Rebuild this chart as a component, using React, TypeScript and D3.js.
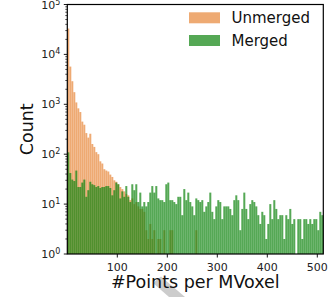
import React, { useEffect, useRef } from "react";
import * as d3 from "d3";

// histogram bins: width 4 points, 0..512
const binWidth = 4;
const xMax = 512;

const unmergedCounts = [
  33000, 5700, 2900, 1750, 1090, 830, 700, 450, 390, 265, 215, 257, 160, 140, 110, 100,
  72, 65, 50, 47, 45, 39, 35, 30, 28, 25, 22, 20, 18, 16, 15, 12,
  13, 10, 11, 9, 8, 8, 7, 3, 2, 4, 2, 3, 1, 2, 2, 1,
  3, 1, 0, 3, 3, 0, 0, 0, 0, 0, 0, 0, 0, 0, 0, 0,
  3, 0, 0, 0, 0, 0, 0, 0, 0, 0, 0, 0, 0, 0, 0, 0,
  0, 0, 0, 0, 0, 0, 0, 0, 0, 0, 0, 0, 0, 0, 0, 0,
  0, 0, 0, 0, 0, 0, 0, 0, 0, 0, 0, 0, 0, 0, 0, 0,
  0, 0, 0, 0, 0, 0, 0, 0, 0, 0, 0, 0, 0, 0, 0, 0,
];

const mergedCounts = [
  109, 42, 31, 29, 47, 22, 22, 27, 31, 14, 19, 28, 25, 24, 22, 23,
  21, 22, 22, 23, 23, 21, 15, 19, 27, 25, 13, 18, 14, 23, 14, 11,
  25, 19, 25, 11, 17, 9, 11, 9, 11, 17, 23, 17, 23, 13, 12, 12,
  11, 25, 27, 12, 12, 11, 10, 14, 14, 6, 20, 12, 17, 11, 9, 6,
  13, 12, 11, 12, 7, 9, 11, 17, 7, 5, 9, 12, 11, 5, 9, 9,
  9, 8, 6, 12, 15, 12, 3, 8, 17, 8, 5, 10, 12, 11, 9, 6,
  4, 7, 6, 2, 4, 10, 5, 12, 8, 5, 6, 6, 2, 6, 5, 8,
  4, 5, 1, 5, 5, 2, 5, 5, 4, 5, 4, 5, 5, 3, 7, 6,
];

const xTicks = [100, 200, 300, 400, 500];
const yExponents = [0, 1, 2, 3, 4, 5];
const legendLabels = ["Unmerged", "Merged"];

const orange = "#eeaa73";
const green = "#148714";
const greenAlpha = 0.72;
const font = "DejaVu Sans";

export default function App() {
  const ref = useRef<SVGSVGElement>(null);

  useEffect(() => {
    if (!ref.current) return;
    const svg = d3.select(ref.current);
    svg.selectAll("*").remove();

    const left = 67.3, right = 323.3, top = 4.5, bottom = 254;

    const x = d3.scaleLinear().domain([0, xMax]).range([left, right]);
    const y = d3.scaleLog().domain([1, 1e5]).range([bottom, top]);

    // stray grey shape below the axis title
    svg
      .append("path")
      .attr("d", "M153,283 L161,276.5 L185,297 L169,297 Z")
      .attr("fill", "#cccccc");

    const drawBars = (counts: number[], color: string, opacity: number) => {
      svg
        .append("g")
        .selectAll("rect")
        .data(counts)
        .join("rect")
        .attr("x", (_, i) => x(i * binWidth))
        .attr("width", x(binWidth) - x(0))
        .attr("y", (d) => y(Math.max(d, 1)))
        .attr("height", (d) => bottom - y(Math.max(d, 1)))
        .attr("fill", color)
        .attr("fill-opacity", opacity);
    };
    drawBars(unmergedCounts, orange, 1);
    drawBars(mergedCounts, green, greenAlpha);

    // frame
    svg
      .append("rect")
      .attr("x", left)
      .attr("y", top)
      .attr("width", right - left)
      .attr("height", bottom - top)
      .attr("fill", "none")
      .attr("stroke", "#000")
      .attr("stroke-width", 1.2);

    // x ticks
    const gx = svg.append("g");
    xTicks.forEach((t) => {
      gx.append("line")
        .attr("x1", x(t)).attr("x2", x(t))
        .attr("y1", bottom).attr("y2", bottom + 3.5)
        .attr("stroke", "#000").attr("stroke-width", 0.9);
      gx.append("text")
        .attr("x", x(t)).attr("y", bottom + 16.5)
        .attr("text-anchor", "middle")
        .attr("font-family", font).attr("font-size", 11)
        .attr("fill", "#222")
        .text(String(t));
    });

    // y ticks, log scale
    const gy = svg.append("g");
    yExponents.forEach((e) => {
      const v = Math.pow(10, e);
      gy.append("line")
        .attr("x1", left - 3.5).attr("x2", left)
        .attr("y1", y(v)).attr("y2", y(v))
        .attr("stroke", "#000").attr("stroke-width", 0.9);
      const t = gy
        .append("text")
        .attr("x", left - 7)
        .attr("y", y(v) + 4)
        .attr("text-anchor", "end")
        .attr("font-family", font)
        .attr("font-size", 11)
        .attr("fill", "#222");
      t.append("tspan").text("10");
      t.append("tspan").attr("font-size", 8).attr("dy", -4).text(String(e));
      if (e < 5) {
        for (let m = 2; m <= 9; m++) {
          gy.append("line")
            .attr("x1", left - 2).attr("x2", left)
            .attr("y1", y(m * v)).attr("y2", y(m * v))
            .attr("stroke", "#000").attr("stroke-width", 0.7);
        }
      }
    });

    // axis titles
    svg
      .append("text")
      .attr("x", (left + right) / 2)
      .attr("y", 288)
      .attr("text-anchor", "middle")
      .attr("font-family", font)
      .attr("font-size", 17.5)
      .attr("fill", "#111")
      .text("#Points per MVoxel");

    svg
      .append("text")
      .attr("transform", `translate(33,${(top + bottom) / 2}) rotate(-90)`)
      .attr("text-anchor", "middle")
      .attr("font-family", font)
      .attr("font-size", 17.5)
      .attr("fill", "#111")
      .text("Count");

    // legend
    const legend = svg.append("g");
    [orange, green].forEach((c, i) => {
      legend
        .append("rect")
        .attr("x", 189).attr("y", 12.3 + i * 22.7)
        .attr("width", 31).attr("height", 11)
        .attr("fill", c)
        .attr("fill-opacity", i === 0 ? 1 : greenAlpha);
      legend
        .append("text")
        .attr("x", 231.5).attr("y", 23.2 + i * 22.7)
        .attr("font-family", font).attr("font-size", 15)
        .attr("fill", "#111")
        .text(legendLabels[i]);
    });
  }, []);

  return (
    <svg
      ref={ref}
      width={328}
      height={297}
      style={{ position: "absolute", left: 0, top: 0, background: "#fff" }}
    />
  );
}
